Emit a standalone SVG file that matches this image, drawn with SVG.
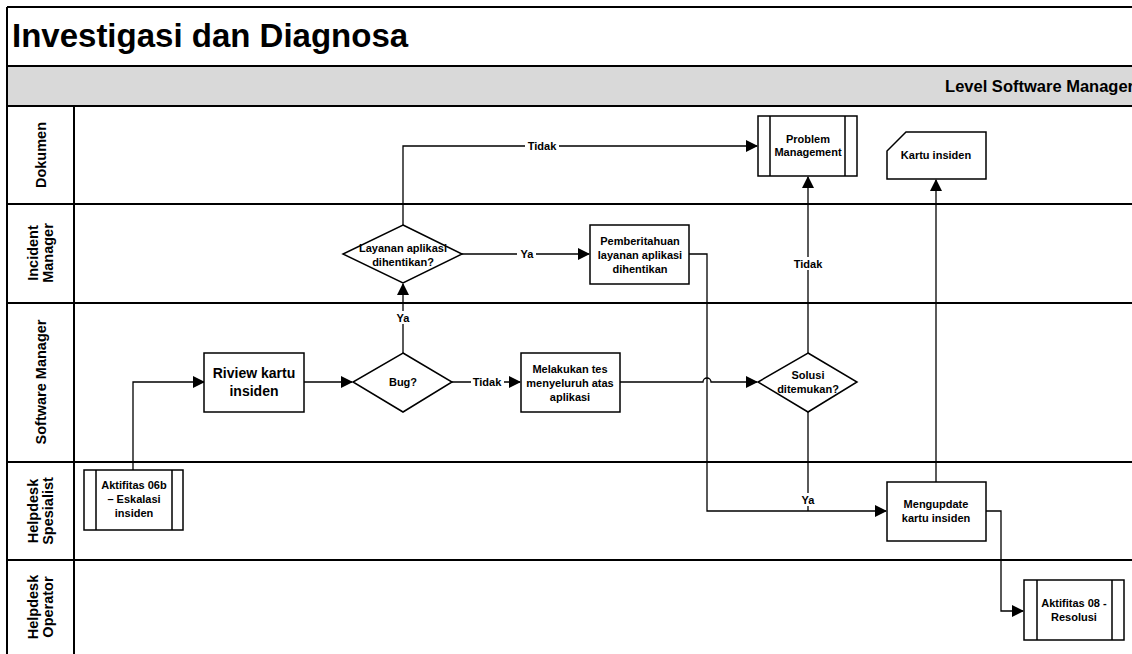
<svg xmlns="http://www.w3.org/2000/svg" width="1132" height="654" viewBox="0 0 1132 654">
<defs>
<style>
text{font-family:"Liberation Sans",Arial,sans-serif;font-weight:bold;fill:#000}
.lane{stroke:#000;stroke-width:2;fill:none}
.n{fill:#fff;stroke:#000;stroke-width:1.5}
.t{font-size:11px;text-anchor:middle}
.tb{font-size:14px;text-anchor:middle}
.lt{font-size:14.5px;text-anchor:middle}
.c{fill:none;stroke:#000;stroke-width:1.3}
.lbl{font-size:11px;text-anchor:middle}
</style>
<marker id="ah" markerWidth="12" markerHeight="12" refX="11" refY="6" orient="auto" markerUnits="userSpaceOnUse">
<path d="M0,0 L12,6 L0,12 Z" fill="#000"/>
</marker>
</defs>
<rect x="0" y="0" width="1132" height="654" fill="#fff"/>
<g id="frame">
<rect x="7" y="66" width="1130" height="40" fill="#d9d9d9"/>
<path class="lane" d="M7,7 H1140 M7,7 V660 M7,66 H1140 M7,106 H1140 M7,204 H1140 M7,303 H1140 M7,462 H1140 M7,560 H1140 M74,106 V660"/>
<text x="12" y="47" style="font-size:33px">Investigasi dan Diagnosa</text>
<text x="1134" y="92" style="font-size:16.5px;text-anchor:end">Level Software Manager</text>
</g>
<g id="lane-labels">
<text class="lt" transform="translate(46,155) rotate(-90)">Dokumen</text>
<text class="lt" transform="translate(38,253) rotate(-90)">Incident</text>
<text class="lt" transform="translate(53,253) rotate(-90)">Manager</text>
<text class="lt" transform="translate(46,382) rotate(-90)">Software Manager</text>
<text class="lt" transform="translate(38,511) rotate(-90)">Helpdesk</text>
<text class="lt" transform="translate(53,511) rotate(-90)">Spesialist</text>
<text class="lt" transform="translate(38,607) rotate(-90)">Helpdesk</text>
<text class="lt" transform="translate(53,607) rotate(-90)">Operator</text>
</g>
<g id="connectors">
<path class="c" d="M133,470 V382 H204" marker-end="url(#ah)"/>
<path class="c" d="M304,382 H352" marker-end="url(#ah)"/>
<path class="c" d="M403,353 V284" marker-end="url(#ah)"/>
<path class="c" d="M452,382 H520" marker-end="url(#ah)"/>
<path class="c" d="M403,225 V146 H757" marker-end="url(#ah)"/>
<path class="c" d="M462,254 H589" marker-end="url(#ah)"/>
<path class="c" d="M620,382 H703 A4,4 0 0 1 711,382 H757" marker-end="url(#ah)"/>
<path class="c" d="M689,254 H707 V511 H886" marker-end="url(#ah)"/>
<path class="c" d="M808,353 V177" marker-end="url(#ah)"/>
<path class="c" d="M808,412 V511"/>
<path class="c" d="M936,482 V180" marker-end="url(#ah)"/>
<path class="c" d="M986,511 H1001 V611 H1023" marker-end="url(#ah)"/>
<rect x="525" y="139" width="34" height="13" fill="#fff"/>
<text class="lbl" x="542" y="150">Tidak</text>
<rect x="517" y="247" width="19" height="13" fill="#fff"/>
<text class="lbl" x="527" y="258">Ya</text>
<rect x="393" y="311" width="19" height="13" fill="#fff"/>
<text class="lbl" x="403" y="322">Ya</text>
<rect x="471" y="375" width="33" height="13" fill="#fff"/>
<text class="lbl" x="487" y="386">Tidak</text>
<rect x="791" y="257" width="34" height="13" fill="#fff"/>
<text class="lbl" x="808" y="268">Tidak</text>
<rect x="798" y="493" width="20" height="13" fill="#fff"/>
<text class="lbl" x="808" y="504">Ya</text>
</g>
<g id="aktifitas06b">
<rect class="n" x="84" y="470" width="99" height="60"/>
<path class="n" d="M96,470 V530 M172,470 V530"/>
<text class="t" x="134" y="489">Aktifitas 06b</text>
<text class="t" x="134" y="503">– Eskalasi</text>
<text class="t" x="134" y="517">insiden</text>
</g>
<g id="riview">
<rect class="n" x="204" y="353" width="100" height="59"/>
<text class="tb" x="254" y="378">Riview kartu</text>
<text class="tb" x="254" y="396">insiden</text>
</g>
<g id="bug">
<path class="n" d="M403,353 L452,382 L403,412 L353,382 Z"/>
<text class="t" x="403" y="386">Bug?</text>
</g>
<g id="melakukan">
<rect class="n" x="521" y="353" width="99" height="59"/>
<text class="t" x="570" y="373">Melakukan tes</text>
<text class="t" x="570" y="387">menyeluruh atas</text>
<text class="t" x="570" y="401">aplikasi</text>
</g>
<g id="layanan">
<path class="n" d="M403,225 L462,254 L403,283 L343,254 Z"/>
<text class="t" x="403" y="252">Layanan aplikasi</text>
<text class="t" x="403" y="266">dihentikan?</text>
</g>
<g id="pemberitahuan">
<rect class="n" x="590" y="225" width="99" height="59"/>
<text class="t" x="640" y="245">Pemberitahuan</text>
<text class="t" x="640" y="259">layanan aplikasi</text>
<text class="t" x="640" y="273">dihentikan</text>
</g>
<g id="problem-management">
<rect class="n" x="758" y="116" width="99" height="60"/>
<path class="n" d="M770,116 V176 M845,116 V176"/>
<text class="t" x="808" y="143">Problem</text>
<text class="t" x="808" y="156">Management</text>
</g>
<g id="kartu-insiden">
<path class="n" d="M906,132 H986 V179 H887 V151 Z"/>
<text class="t" x="936" y="159">Kartu insiden</text>
</g>
<g id="solusi">
<path class="n" d="M808,353 L857,382 L808,412 L758,382 Z"/>
<text class="t" x="808" y="379">Solusi</text>
<text class="t" x="808" y="393">ditemukan?</text>
</g>
<g id="mengupdate">
<rect class="n" x="887" y="482" width="99" height="59"/>
<text class="t" x="936" y="508">Mengupdate</text>
<text class="t" x="936" y="522">kartu insiden</text>
</g>
<g id="aktifitas08">
<rect class="n" x="1024" y="580" width="100" height="60"/>
<path class="n" d="M1037,580 V640 M1112,580 V640"/>
<text class="t" x="1074" y="607">Aktifitas 08 -</text>
<text class="t" x="1074" y="621">Resolusi</text>
</g>
</svg>
